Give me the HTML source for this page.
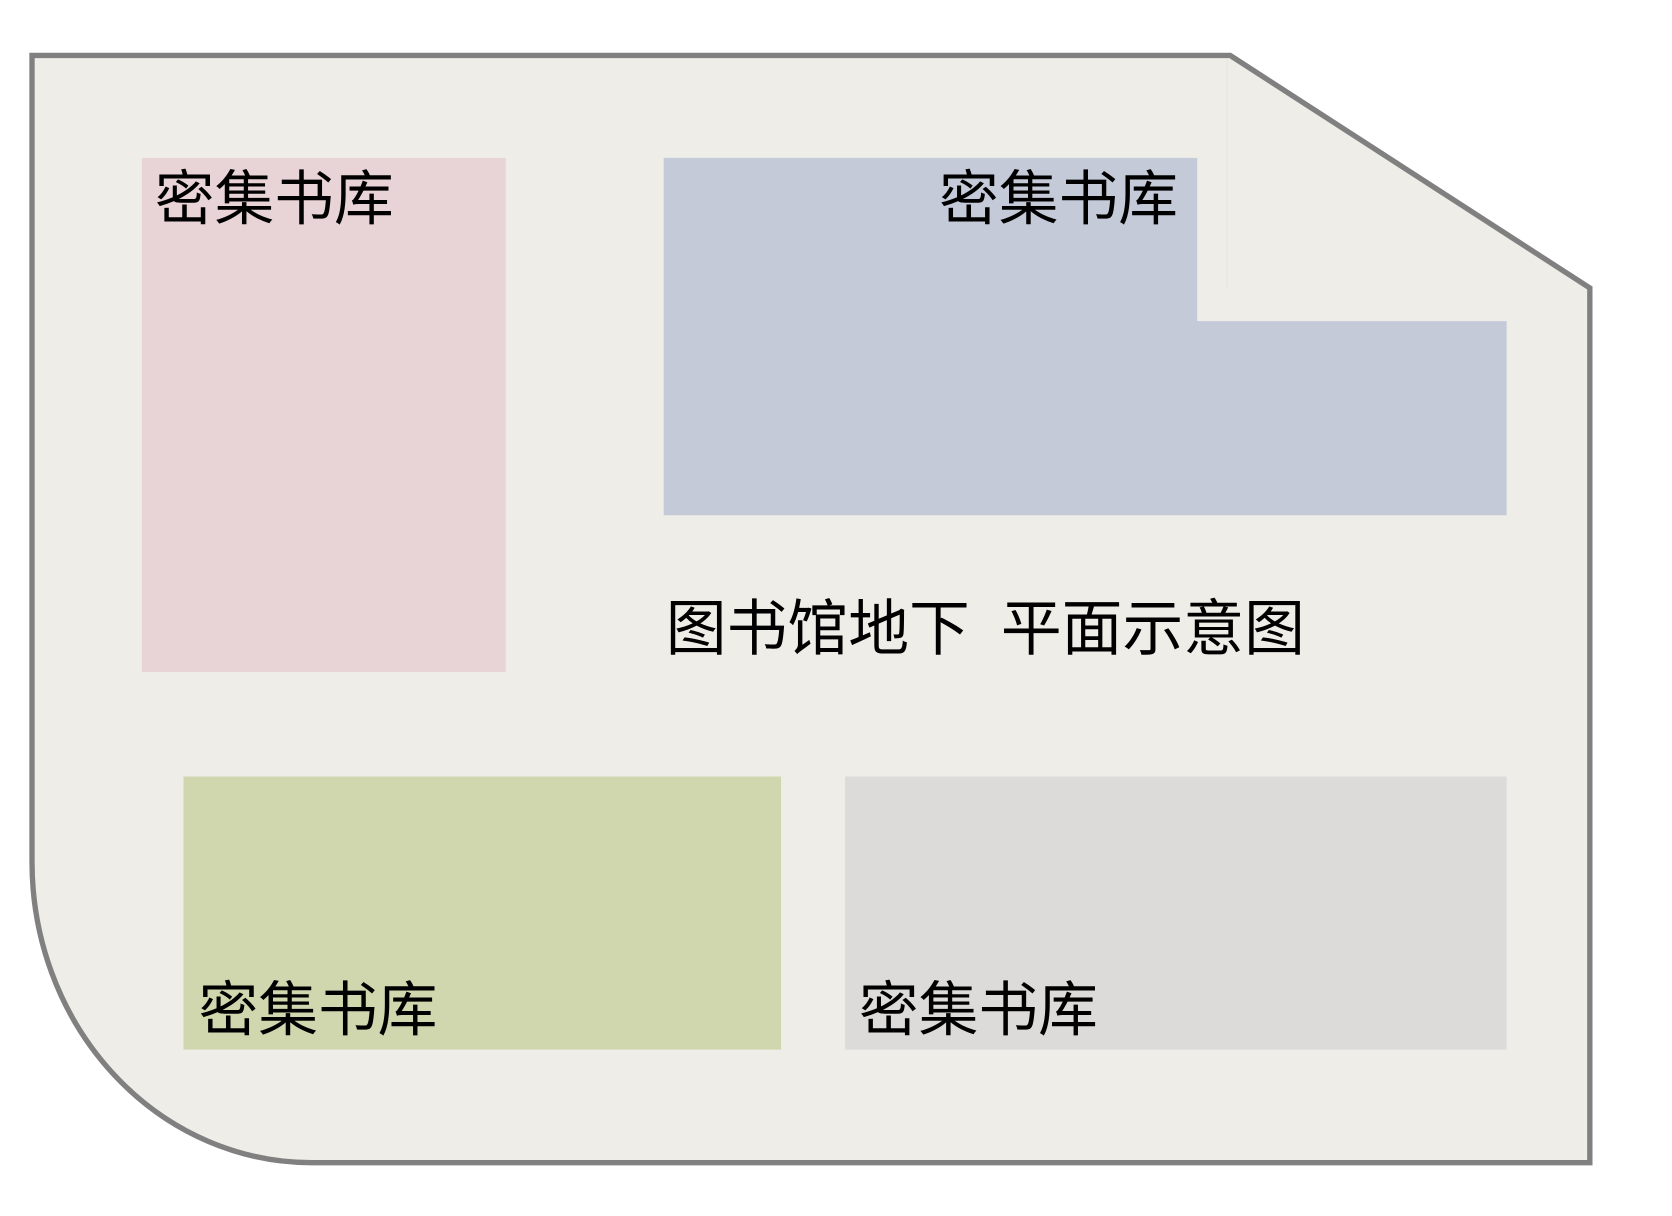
<!DOCTYPE html>
<html><head><meta charset="utf-8"><style>
html,body{margin:0;padding:0;background:#fff;}
svg{display:block;}
text{font-family:"Liberation Sans","Noto Sans CJK SC",sans-serif;fill:#000;}
</style></head><body>
<svg width="1672" height="1216" viewBox="0 0 1567 1140" preserveAspectRatio="none" xmlns="http://www.w3.org/2000/svg">
<rect width="1567" height="1140" fill="#fff"/>
<path d="M30 52 L1153 52 L1490 270 L1490 1090 L292 1090 A262 282 0 0 1 30 808 Z" fill="#eeede8" stroke="#808080" stroke-width="5" stroke-linejoin="miter"/>
<line x1="1150" y1="56" x2="1150" y2="270" stroke="#e6e5e0" stroke-width="1"/>
<rect x="133" y="148" width="341" height="482" fill="#e8d3d6"/>
<path d="M622 148 L1122 148 L1122 301 L1412 301 L1412 483 L622 483 Z" fill="#c4cad8"/>
<rect x="172" y="728" width="560" height="256" fill="#d0d6ad"/>
<rect x="792" y="728" width="620" height="256" fill="#dcdbda"/>
<text x="145" y="206" font-size="56">密集书库</text>
<text x="880" y="206" font-size="56">密集书库</text>
<text x="186" y="966" font-size="56">密集书库</text>
<text x="805" y="966" font-size="56">密集书库</text>
<text x="624" y="609" font-size="57">图书馆地下</text>
<text x="938" y="609" font-size="57">平面示意图</text>
</svg>
</body></html>
